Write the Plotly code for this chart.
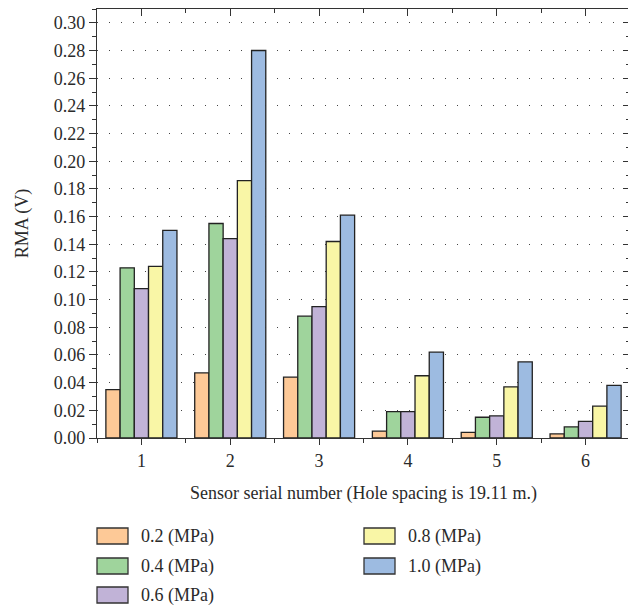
import plotly.graph_objects as go

sensors = [1, 2, 3, 4, 5, 6]
series_names = ["0.2 (MPa)", "0.4 (MPa)", "0.6 (MPa)", "0.8 (MPa)", "1.0 (MPa)"]
rma_02 = [0.035, 0.047, 0.044, 0.005, 0.004, 0.003]
rma_04 = [0.123, 0.155, 0.088, 0.019, 0.015, 0.008]
rma_06 = [0.108, 0.144, 0.095, 0.019, 0.016, 0.012]
rma_08 = [0.124, 0.186, 0.142, 0.045, 0.037, 0.023]
rma_10 = [0.150, 0.280, 0.161, 0.062, 0.055, 0.038]
series_values = [rma_02, rma_04, rma_06, rma_08, rma_10]
y_tick_vals = [0.00, 0.02, 0.04, 0.06, 0.08, 0.10, 0.12, 0.14, 0.16, 0.18,
               0.20, 0.22, 0.24, 0.26, 0.28, 0.30]
x_title = "Sensor serial number (Hole spacing is 19.11 m.)"
y_title = "RMA (V)"

colors = ["#FDC997", "#9FD49C", "#C1B3D7", "#F9F6A6", "#9DBBE1"]
FONT = "Liberation Serif"
TXT = "#2a2a2a"
FS = 18

# the page body adds an 8px offset; figure is sized to fill the window exactly
OFF = 8
W, H = 636 - OFF, 607 - OFF
L, R, T, B = 97 - OFF, 6, 1, 169
PW, PH = W - L - R, H - T - B

def px_x(page_x):
    return (page_x - OFF - L) / PW

def px_y(page_y):
    return (H - B - (page_y - OFF)) / PH

fig = go.Figure()
for name, vals, col in zip(series_names, series_values, colors):
    fig.add_trace(go.Bar(
        x=sensors, y=vals, name=name, marker_color=col,
        marker_line=dict(color="#222222", width=1.3), showlegend=False,
    ))

axis_common = dict(showline=True, linecolor="#333333", linewidth=1.2,
                   tickcolor="#333333", zeroline=False, automargin=False)

fig.update_layout(
    width=W, height=H,
    margin=dict(l=L, r=R, t=T, b=B),
    paper_bgcolor="white", plot_bgcolor="white",
    barmode="group", bargap=0.2, bargroupgap=0,
    font=dict(family=FONT, size=FS, color=TXT),
    xaxis=dict(range=[0.5, 6.5], tickvals=sensors, ticks="outside", ticklen=6,
               tickwidth=1.2, showgrid=False,
               title=dict(text=x_title, font=dict(size=FS), standoff=16),
               minor=dict(tickvals=[0.5, 1.5, 2.5, 3.5, 4.5, 5.5, 6.5], ticks="outside",
                          ticklen=4, tickcolor="#333333", showgrid=False),
               **axis_common),
    yaxis=dict(range=[0, 0.31], tickvals=y_tick_vals, tickformat=".2f",
               ticks="outside", ticklen=7, tickwidth=1.2,
               showgrid=True, gridcolor="#444444", gridwidth=1, griddash="1px,11px",
               title=dict(text=y_title, font=dict(size=FS), standoff=20),
               minor=dict(dtick=0.01, tick0=0, ticks="outside", ticklen=4,
                          tickcolor="#333333", showgrid=False),
               **axis_common),
    xaxis2=dict(overlaying="x", side="top", anchor="y", range=[0.5, 6.5],
                tickvals=sensors, ticks="inside", ticklen=7, tickwidth=1.2,
                showticklabels=False, showgrid=False,
                minor=dict(tickvals=[1.5, 2.5, 3.5, 4.5, 5.5], ticks="inside",
                           ticklen=4, tickcolor="#333333", showgrid=False),
                **axis_common),
    yaxis2=dict(overlaying="y", side="right", anchor="x", range=[0, 0.31],
                tickvals=y_tick_vals, ticks="inside", ticklen=7, tickwidth=1.2,
                showticklabels=False, showgrid=False,
                minor=dict(dtick=0.01, tick0=0, ticks="inside", ticklen=4,
                           tickcolor="#333333", showgrid=False),
                **axis_common),
)

# anchor trace for the mirrored axes (no visible marks)
fig.add_trace(go.Scatter(x=[None], y=[None], xaxis="x2", yaxis="y2",
                         showlegend=False, hoverinfo="skip"))

# custom legend (two columns), positions in page pixels
legend_pos = [(97, 536), (97, 566), (97, 595), (364, 536), (364, 566)]
shapes = []
annotations = []
for (sx, sy), name, col in zip(legend_pos, series_names, colors):
    shapes.append(dict(type="rect", xref="paper", yref="paper",
                       x0=px_x(sx), x1=px_x(sx + 31), y0=px_y(sy - 8), y1=px_y(sy + 8),
                       fillcolor=col, line=dict(color="#333333", width=1.3)))
    annotations.append(dict(xref="paper", yref="paper", x=px_x(sx + 42), y=px_y(sy),
                            text=name, showarrow=False, xanchor="left", yanchor="middle",
                            font=dict(family=FONT, size=FS, color=TXT)))
fig.update_layout(shapes=shapes, annotations=annotations)

fig.write_html("out.html")
